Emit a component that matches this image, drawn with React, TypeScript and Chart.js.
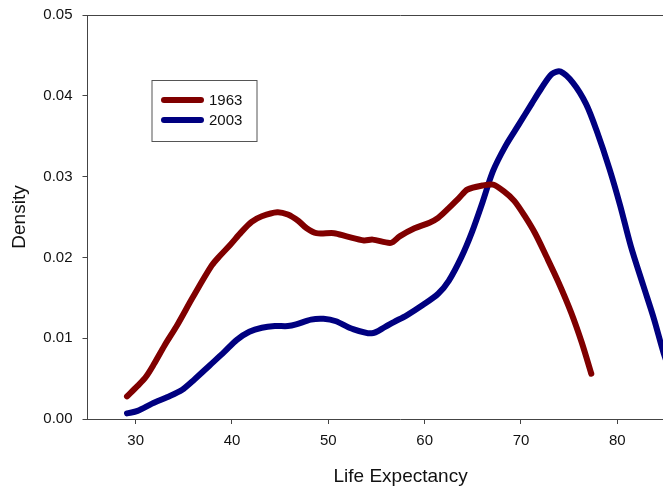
import React, { useEffect, useRef } from "react";
import { Chart, registerables } from "chart.js";

Chart.register(...registerables);

const seriesNames = ["1963", "2003"];
const seriesColors = ["#800000", "#000080"];

const x1963 = [29.1, 30.2, 31.05, 31.9, 33.0, 34.35, 35.9, 37.9, 38.75, 39.85, 40.94, 42.04, 43.1, 44.7, 45.8, 46.9, 47.75, 48.76, 50.6, 51.9, 53.7, 54.6, 56.5, 57.4, 58.95, 60.5, 61.4, 62.5, 63.6, 64.45, 66.0, 67.1, 68.2, 69.3, 70.4, 71.5, 72.6, 73.9, 75.2, 76.3, 77.3];
const y1963 = [0.0028, 0.0041, 0.0052, 0.0068, 0.0091, 0.0117, 0.015, 0.019, 0.0202, 0.0216, 0.0231, 0.0244, 0.0251, 0.0256, 0.0253, 0.0245, 0.0236, 0.023, 0.023, 0.0226, 0.0221, 0.0222, 0.0218, 0.0226, 0.0236, 0.0243, 0.0249, 0.0261, 0.0274, 0.0284, 0.0289, 0.029, 0.0282, 0.027, 0.0251, 0.0229, 0.0202, 0.0169, 0.0132, 0.0095, 0.0056];

const x2003 = [29.1, 30.2, 31.7, 33.25, 34.8, 36.1, 37.65, 39.2, 40.5, 41.8, 43.1, 44.45, 45.8, 46.65, 48.2, 49.5, 50.8, 52.4, 54.5, 55.9, 56.8, 58.1, 59.8, 61.4, 62.5, 63.8, 64.9, 66.0, 67.1, 68.4, 69.7, 71.1, 72.1, 73.2, 74.1, 75.4, 76.75, 77.85, 79.2, 80.3, 81.4, 82.7, 83.8, 84.8, 85.6];
const y2003 = [0.0007, 0.001, 0.0019, 0.0027, 0.0036, 0.0049, 0.0066, 0.0083, 0.0098, 0.0108, 0.0113, 0.0115, 0.0115, 0.0117, 0.0123, 0.0124, 0.0121, 0.0112, 0.0106, 0.0114, 0.012, 0.0128, 0.0141, 0.0155, 0.0171, 0.02, 0.0231, 0.0268, 0.0307, 0.0338, 0.0363, 0.039, 0.0409, 0.0427, 0.043, 0.0416, 0.039, 0.0357, 0.0309, 0.0264, 0.0214, 0.0165, 0.0124, 0.0082, 0.0055];

const xTicks = [30, 40, 50, 60, 70, 80, 90];
const yTicks = [0, 0.01, 0.02, 0.03, 0.04, 0.05];

const FONT = "'Liberation Sans', Arial, sans-serif";

const framePlugin = {
  id: "frame",
  afterDraw(chart: any) {
    const { ctx, chartArea } = chart;
    ctx.save();
    ctx.strokeStyle = "#444";
    ctx.lineWidth = 1;
    ctx.beginPath();
    ctx.moveTo(chartArea.left, chartArea.top + 0.5);
    ctx.lineTo(chartArea.right, chartArea.top + 0.5);
    ctx.stroke();

    // legend box
    const bx = chartArea.left + 64.5;
    const by = chartArea.top + 65.5;
    const bw = 105;
    const bh = 61;
    ctx.fillStyle = "#fff";
    ctx.fillRect(bx, by, bw, bh);
    ctx.strokeStyle = "#555";
    ctx.strokeRect(bx, by, bw, bh);
    ctx.font = "15px " + FONT;
    ctx.textBaseline = "middle";
    ctx.textAlign = "left";
    seriesNames.forEach((name, i) => {
      const ly = by + 19.5 + i * 20;
      ctx.strokeStyle = seriesColors[i];
      ctx.lineWidth = 6;
      ctx.lineCap = "round";
      ctx.beginPath();
      ctx.moveTo(bx + 12, ly);
      ctx.lineTo(bx + 49, ly);
      ctx.stroke();
      ctx.fillStyle = "#111";
      ctx.fillText(name, bx + 57, ly + 1);
    });
    ctx.restore();
  },
};

export default function App() {
  const ref = useRef<HTMLCanvasElement>(null);
  useEffect(() => {
    if (!ref.current) return;
    const mk = (xs: number[], ys: number[]) => xs.map((x, i) => ({ x, y: ys[i] }));
    const chart = new Chart(ref.current, {
      type: "line",
      data: {
        datasets: [
          {
            label: seriesNames[0],
            data: mk(x1963, y1963),
            borderColor: seriesColors[0],
            borderWidth: 6,
            pointRadius: 0,
            tension: 0.3,
            borderCapStyle: "round",
            borderJoinStyle: "round",
          },
          {
            label: seriesNames[1],
            data: mk(x2003, y2003),
            borderColor: seriesColors[1],
            borderWidth: 6,
            pointRadius: 0,
            tension: 0.3,
            borderCapStyle: "round",
            borderJoinStyle: "round",
          },
        ],
      },
      options: {
        animation: false,
        responsive: false,
        maintainAspectRatio: false,
        layout: { padding: { top: 11, right: 16, left: 0, bottom: 0 } },
        plugins: { legend: { display: false }, tooltip: { enabled: false } },
        scales: {
          x: {
            type: "linear",
            min: 25,
            max: 90,
            afterBuildTicks: (s: any) => {
              s.ticks = xTicks.map((v) => ({ value: v }));
            },
            afterFit: (s: any) => {
              s.height = 70;
            },
            grid: { display: true, drawOnChartArea: false, drawTicks: true, tickLength: 5, color: "#444" },
            border: { display: true, color: "#444", width: 1 },
            ticks: { color: "#111", font: { family: FONT, size: 15 }, padding: 8, maxRotation: 0, autoSkip: false },
            title: { display: true, text: "Life Expectancy", color: "#111", font: { family: FONT, size: 19 }, padding: { top: 0, bottom: 1 } },
          },
          y: {
            type: "linear",
            min: 0,
            max: 0.05,
            afterBuildTicks: (s: any) => {
              s.ticks = yTicks.map((v) => ({ value: v }));
            },
            afterFit: (s: any) => {
              s.width = 87.5;
            },
            grid: { display: true, drawOnChartArea: false, drawTicks: true, tickLength: 5, color: "#444" },
            border: { display: true, color: "#444", width: 1 },
            ticks: {
              color: "#111",
              font: { family: FONT, size: 15 },
              padding: 10,
              callback: (v: any) => Number(v).toFixed(2),
            },
            title: { display: true, text: "Density", color: "#111", font: { family: FONT, size: 19 }, padding: { top: 8, bottom: 0 } },
          },
        },
      },
      plugins: [framePlugin],
    });
    return () => chart.destroy();
  }, []);
  return (
    <div style={{ position: "absolute", left: 0, top: 0, width: 663, height: 489, overflow: "hidden", background: "#fff" }}>
      <canvas ref={ref} width={730} height={493} style={{ display: "block", width: 730, height: 493, marginTop: -4 }} />
    </div>
  );
}
